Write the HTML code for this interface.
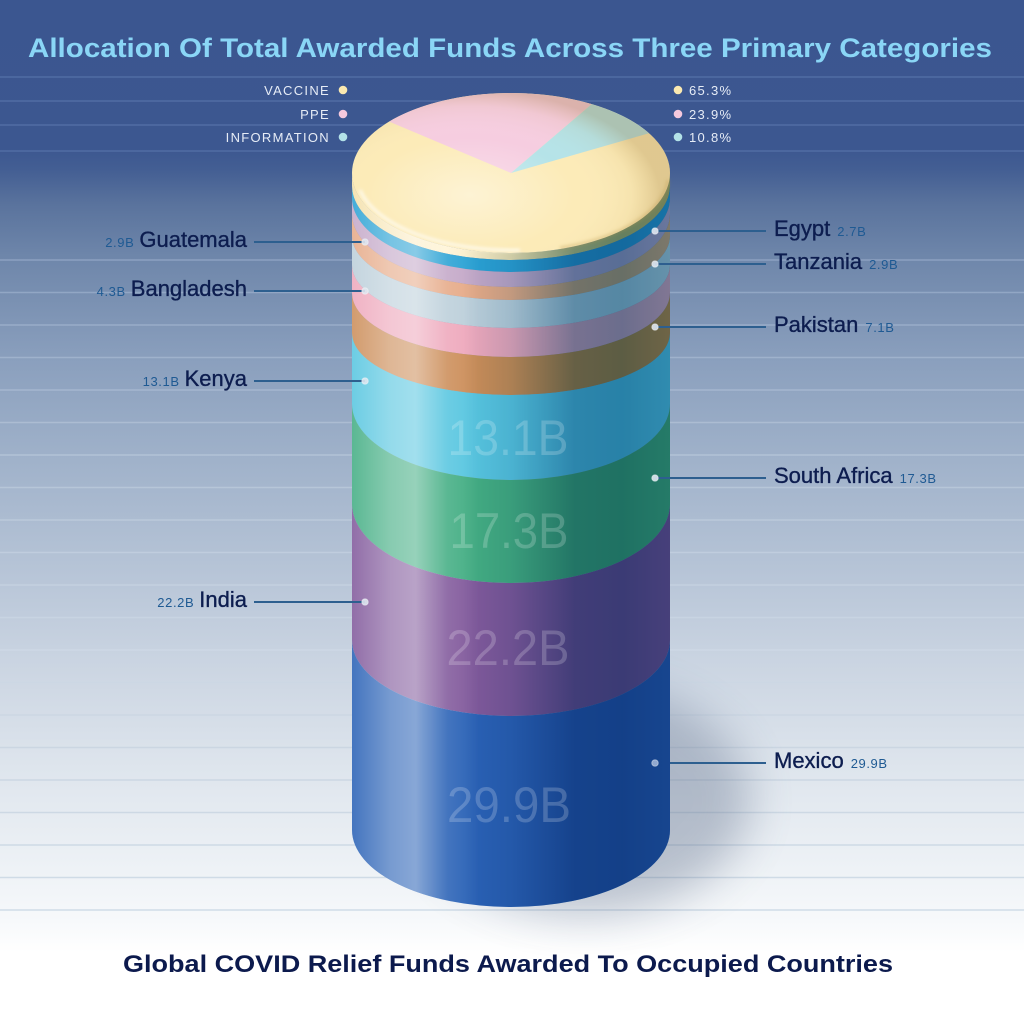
<!DOCTYPE html>
<html><head><meta charset="utf-8"><style>
html,body{margin:0;padding:0;background:#fff;}
svg{display:block;}
.n{font-family:"Liberation Sans",Arial,sans-serif;font-size:22px;fill:#0d1d4f;stroke:#0d1d4f;stroke-width:0.35px;}
.v{font-family:"Liberation Sans",Arial,sans-serif;font-size:13px;fill:#1f5a93;letter-spacing:0.6px;}
.lg{font-family:"Liberation Sans",Arial,sans-serif;font-size:13px;fill:#e6ecf6;letter-spacing:1.3px;}
.big{font-family:"Liberation Sans",Arial,sans-serif;font-size:50px;fill:#ffffff;fill-opacity:0.2;}
</style></head><body>
<svg width="1024" height="1024" viewBox="0 0 1024 1024" xmlns="http://www.w3.org/2000/svg">
<defs>
<linearGradient id="bg" x1="0" y1="0" x2="0" y2="1024" gradientUnits="userSpaceOnUse">
<stop offset="0" stop-color="#3b5690"/>
<stop offset="0.145" stop-color="#3c5790"/>
<stop offset="0.165" stop-color="#435e93"/>
<stop offset="0.2" stop-color="#5a739d"/>
<stop offset="0.25" stop-color="#6e86aa"/>
<stop offset="0.35" stop-color="#8a9fbd"/>
<stop offset="0.45" stop-color="#a0b2ca"/>
<stop offset="0.55" stop-color="#b5c3d6"/>
<stop offset="0.65" stop-color="#cbd5e2"/>
<stop offset="0.75" stop-color="#dee5ed"/>
<stop offset="0.85" stop-color="#eef2f6"/>
<stop offset="0.9" stop-color="#f7f9fb"/>
<stop offset="0.93" stop-color="#ffffff"/>
<stop offset="1" stop-color="#ffffff"/>
</linearGradient>
<linearGradient id="ln" x1="0" y1="260" x2="0" y2="910" gradientUnits="userSpaceOnUse">
<stop offset="0" stop-color="#8ca1c1"/>
<stop offset="0.3" stop-color="#b2c2d6"/>
<stop offset="0.6" stop-color="#cdd8e5"/>
<stop offset="0.75" stop-color="#cbd6e2"/>
<stop offset="1" stop-color="#d0dce7"/>
</linearGradient>
<linearGradient id="hl" x1="352" y1="0" x2="670" y2="0" gradientUnits="userSpaceOnUse">
<stop offset="0" stop-color="#ffffff" stop-opacity="0.12"/>
<stop offset="0.12" stop-color="#ffffff" stop-opacity="0.36"/>
<stop offset="0.2" stop-color="#ffffff" stop-opacity="0.44"/>
<stop offset="0.3" stop-color="#ffffff" stop-opacity="0.12"/>
<stop offset="0.4" stop-color="#ffffff" stop-opacity="0"/>
<stop offset="1" stop-color="#ffffff" stop-opacity="0"/>
</linearGradient>
<linearGradient id="mul" x1="352" y1="0" x2="670" y2="0" gradientUnits="userSpaceOnUse">
<stop offset="0" stop-color="#ffffff"/>
<stop offset="0.35" stop-color="#ffffff"/>
<stop offset="0.5" stop-color="#d8e6ee"/>
<stop offset="0.7" stop-color="#80acc4"/>
<stop offset="0.85" stop-color="#73a6bf"/>
<stop offset="1" stop-color="#8ab4c8"/>
</linearGradient>
<radialGradient id="face" cx="470" cy="195" r="190" gradientUnits="userSpaceOnUse" gradientTransform="translate(470 195) scale(1 0.55) translate(-470 -195)">
<stop offset="0" stop-color="#ffffff" stop-opacity="0.4"/>
<stop offset="0.55" stop-color="#ffffff" stop-opacity="0"/>
<stop offset="0.85" stop-color="#b48c3c" stop-opacity="0.08"/>
<stop offset="1" stop-color="#966e28" stop-opacity="0.28"/>
</radialGradient>
<linearGradient id="capside" x1="352" y1="0" x2="670" y2="0" gradientUnits="userSpaceOnUse">
<stop offset="0" stop-color="#f3dfa8"/>
<stop offset="0.3" stop-color="#fff4d6"/>
<stop offset="0.7" stop-color="#ead08e"/>
<stop offset="1" stop-color="#d8b870"/>
</linearGradient>
<filter id="blur" x="-50%" y="-50%" width="200%" height="200%"><feGaussianBlur stdDeviation="22"/></filter>
<filter id="blur2" x="-20%" y="-20%" width="140%" height="140%"><feGaussianBlur stdDeviation="1.5"/></filter>
<clipPath id="body"><path d="M352,173 L352,830 A159,77 0 0 0 670,830 L670,173 Z"/></clipPath>
</defs>

<rect x="0" y="0" width="1024" height="1024" fill="url(#bg)"/>

<g stroke="#516da4" stroke-width="1.5">
<line x1="0" y1="77" x2="1024" y2="77"/>
<line x1="0" y1="101" x2="1024" y2="101"/>
<line x1="0" y1="125" x2="1024" y2="125"/>
<line x1="0" y1="151" x2="1024" y2="151"/>
</g>

<path stroke="url(#ln)" stroke-width="1.6" fill="none" d="
M0,260H1024 M0,292.5H1024 M0,325H1024 M0,357.5H1024 M0,390H1024 M0,422.5H1024 M0,455H1024 M0,487.5H1024 M0,520H1024 M0,552.5H1024 M0,585H1024 M0,617.5H1024 M0,650H1024 M0,682.5H1024 M0,715H1024 M0,747.5H1024 M0,780H1024 M0,812.5H1024 M0,845H1024 M0,877.5H1024 M0,910H1024"/>

<ellipse cx="585" cy="800" rx="165" ry="115" fill="#3c5070" opacity="0.3" filter="url(#blur)"/>

<g>
<path fill="url(#capside)" d="M352,173 A159,80 0 0 0 670,173 L670,186 A159,74 0 0 1 352,186 Z"/>
<path fill="#2aa2d4" d="M352,186 A159,74 0 0 0 670,186 L670,198 A159,74 0 0 1 352,198 Z"/>
<path fill="#c4a8c8" d="M352,198 A159,74 0 0 0 670,198 L670,214 A159,73 0 0 1 352,214 Z"/>
<path fill="#e6aa88" d="M352,214 A159,73 0 0 0 670,214 L670,236 A159,64 0 0 1 352,236 Z"/>
<path fill="#bccfda" d="M352,236 A159,64 0 0 0 670,236 L670,265 A159,63 0 0 1 352,265 Z"/>
<path fill="#eea8bc" d="M352,265 A159,63 0 0 0 670,265 L670,293 A159,64 0 0 1 352,293 Z"/>
<path fill="#cc8e5a" d="M352,293 A159,64 0 0 0 670,293 L670,333 A159,62 0 0 1 352,333 Z"/>
<path fill="#58c6e0" d="M352,333 A159,62 0 0 0 670,333 L670,404 A159,76 0 0 1 352,404 Z"/>
<path fill="#44ae84" d="M352,404 A159,76 0 0 0 670,404 L670,504 A159,79 0 0 1 352,504 Z"/>
<path fill="#825a9c" d="M352,504 A159,79 0 0 0 670,504 L670,640 A159,76 0 0 1 352,640 Z"/>
<path fill="#2a62b6" d="M352,640 A159,76 0 0 0 670,640 L670,830 A159,77 0 0 1 352,830 Z"/>
<rect x="352" y="170" width="318" height="740" fill="url(#mul)" clip-path="url(#body)" style="mix-blend-mode:multiply"/>
<rect x="352" y="170" width="318" height="740" fill="url(#hl)" clip-path="url(#body)"/>
</g>

<text class="big" x="508" y="455" text-anchor="middle" textLength="121" lengthAdjust="spacingAndGlyphs">13.1B</text>
<text class="big" x="509" y="548" text-anchor="middle" textLength="119" lengthAdjust="spacingAndGlyphs">17.3B</text>
<text class="big" x="508" y="665" text-anchor="middle" textLength="123" lengthAdjust="spacingAndGlyphs">22.2B</text>
<text class="big" x="509" y="822" text-anchor="middle" textLength="124" lengthAdjust="spacingAndGlyphs">29.9B</text>

<ellipse cx="511" cy="173" rx="159" ry="80" fill="#fcebb8"/>
<path fill="#f6cde0" d="M511,173 L389.2,121.6 A159,80 0 0 1 591.7,104.1 Z"/>
<path fill="#b5e3e8" d="M511,173 L591.7,104.1 A159,80 0 0 1 649,133.2 Z"/>
<ellipse cx="511" cy="173" rx="159" ry="80" fill="url(#face)"/>
<path d="M360,190 A155,76 0 0 0 520,250" fill="none" stroke="#ffffff" stroke-opacity="0.7" stroke-width="3" filter="url(#blur2)"/>
<path d="M560,248 A155,76 0 0 0 668,180" fill="none" stroke="#b89548" stroke-opacity="0.35" stroke-width="3" filter="url(#blur2)"/>

<g stroke="#2d5f8f" stroke-width="2">
<line x1="254" y1="242" x2="365" y2="242"/>
<line x1="254" y1="291" x2="365" y2="291"/>
<line x1="254" y1="381" x2="365" y2="381"/>
<line x1="254" y1="602" x2="365" y2="602"/>
<line x1="655" y1="231" x2="766" y2="231"/>
<line x1="655" y1="264" x2="766" y2="264"/>
<line x1="655" y1="327" x2="766" y2="327"/>
<line x1="655" y1="478" x2="766" y2="478"/>
<line x1="670" y1="763" x2="766" y2="763"/>
</g>
<g fill="#dfe7f0" fill-opacity="0.9" stroke="#ffffff" stroke-opacity="0.4" stroke-width="1">
<circle cx="365" cy="242" r="3.3"/>
<circle cx="365" cy="291" r="3.3"/>
<circle cx="365" cy="381" r="3.3"/>
<circle cx="365" cy="602" r="3.3"/>
<circle cx="655" cy="231" r="3.3"/>
<circle cx="655" cy="264" r="3.3"/>
<circle cx="655" cy="327" r="3.3"/>
<circle cx="655" cy="478" r="3.3"/>
<circle cx="655" cy="763" r="3.3" fill="#9fb4d6"/>
</g>

<text x="247" y="247" text-anchor="end"><tspan class="v">2.9B</tspan><tspan class="n" dx="5">Guatemala</tspan></text>
<text x="247" y="296" text-anchor="end"><tspan class="v">4.3B</tspan><tspan class="n" dx="5">Bangladesh</tspan></text>
<text x="247" y="386" text-anchor="end"><tspan class="v">13.1B</tspan><tspan class="n" dx="5">Kenya</tspan></text>
<text x="247" y="607" text-anchor="end"><tspan class="v">22.2B</tspan><tspan class="n" dx="5">India</tspan></text>

<text x="774" y="236"><tspan class="n">Egypt</tspan><tspan class="v" dx="7">2.7B</tspan></text>
<text x="774" y="269"><tspan class="n">Tanzania</tspan><tspan class="v" dx="7">2.9B</tspan></text>
<text x="774" y="332"><tspan class="n">Pakistan</tspan><tspan class="v" dx="7">7.1B</tspan></text>
<text x="774" y="483"><tspan class="n">South Africa</tspan><tspan class="v" dx="7">17.3B</tspan></text>
<text x="774" y="768"><tspan class="n">Mexico</tspan><tspan class="v" dx="7">29.9B</tspan></text>

<text class="lg" x="330" y="95" text-anchor="end">VACCINE</text>
<text class="lg" x="330" y="119" text-anchor="end">PPE</text>
<text class="lg" x="330" y="142" text-anchor="end">INFORMATION</text>
<circle cx="343" cy="90" r="4.3" fill="#fbe9b0"/>
<circle cx="343" cy="114" r="4.3" fill="#f6c9dd"/>
<circle cx="343" cy="137" r="4.3" fill="#b3e2e8"/>
<circle cx="678" cy="90" r="4.3" fill="#fbe9b0"/>
<circle cx="678" cy="114" r="4.3" fill="#f6c9dd"/>
<circle cx="678" cy="137" r="4.3" fill="#b3e2e8"/>
<text class="lg" x="689" y="95">65.3%</text>
<text class="lg" x="689" y="119">23.9%</text>
<text class="lg" x="689" y="142">10.8%</text>

<text x="28" y="57" textLength="964" lengthAdjust="spacingAndGlyphs" font-family="'Liberation Sans',Arial,sans-serif" font-weight="bold" font-size="26.5" fill="#8ad6f6">Allocation Of Total Awarded Funds Across Three Primary Categories</text>
<text x="123" y="972" textLength="770" lengthAdjust="spacingAndGlyphs" font-family="'Liberation Sans',Arial,sans-serif" font-weight="bold" font-size="24" fill="#0c1a4d">Global COVID Relief Funds Awarded To Occupied Countries</text>
</svg>
</body></html>
